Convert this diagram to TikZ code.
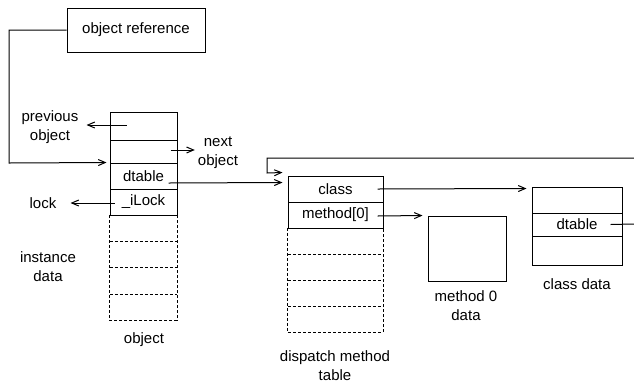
\documentclass[tikz,border=0pt]{standalone}
\usepackage{fontspec}
\setmainfont{Liberation Sans}
\usetikzlibrary{arrows.meta,calc}
\tikzset{
  cell/.style={draw, line width=1pt, inner sep=0pt, anchor=center},
  dcell/.style={inner sep=0pt, anchor=center},
  dline/.style={line width=1pt, dash pattern=on 3pt off 2pt},
  lbl/.style={inner sep=0pt, align=center, anchor=center},
  conn/.style={line width=1pt},
  arr/.style={conn, -{Straight Barb[length=7pt,width=6pt]}},
}
\begin{document}
\begin{tikzpicture}[x=1pt,y=-1pt,font=\fontsize{15}{19}\selectfont]
\useasboundingbox (0,0) rectangle (634,384);
% object reference
\node[cell, minimum width=138pt, minimum height=44pt] (ref) at (136,30) {object reference};
% object
\node[cell, minimum width=67pt, minimum height=28pt] (o1) at (143.5,126) {};
\node[cell, minimum width=67pt, minimum height=23pt] (o2) at (143.5,151.5) {};
\node[cell, minimum width=67pt, minimum height=26pt] (od) at (143.5,176) {dtable};
\node[cell, minimum width=67pt, minimum height=26pt] (ol) at (143.5,202) {\_iLock};
\node[dcell, minimum width=67pt, minimum height=26pt] (oi1) at (143.5,228) {};
\node[dcell, minimum width=67pt, minimum height=26pt] (oi2) at (143.5,254.5) {};
\node[dcell, minimum width=67pt, minimum height=26pt] (oi3) at (143.5,281) {};
\node[dcell, minimum width=67pt, minimum height=26pt] (oi4) at (143.5,307) {};
\draw[dline] (oi1.north west) -- (oi4.south west) -- (oi4.south east) -- (oi1.north east);
\foreach \n in {oi1,oi2,oi3} \draw[dline] (\n.south west) -- (\n.south east);
\node[lbl] (objlbl) at (144,340) {object};
\node[lbl] (prev) at (50,127) {previous\\object};
\node[lbl] (next) at (218,153) {next\\object};
\node[lbl] (lock) at (43,203) {lock};
\node[lbl] (inst) at (48,267) {instance\\data};
% dispatch method table
\node[cell, minimum width=95pt, minimum height=26pt] (cls) at (335.5,189) {class};
\node[cell, minimum width=95pt, minimum height=26pt] (m0) at (335.5,215) {method[0]};
\node[dcell, minimum width=95pt, minimum height=26pt] (t1) at (335.5,241) {};
\node[dcell, minimum width=95pt, minimum height=26pt] (t2) at (335.5,267.5) {};
\node[dcell, minimum width=95pt, minimum height=26pt] (t3) at (335.5,293.5) {};
\node[dcell, minimum width=95pt, minimum height=26pt] (t4) at (335.5,319) {};
\draw[dline] (t1.north west) -- (t4.south west) -- (t4.south east) -- (t1.north east);
\foreach \n in {t1,t2,t3} \draw[dline] (\n.south west) -- (\n.south east);
\node[lbl] (dmt) at (335,366) {dispatch method\\table};
% method 0 data
\node[cell, minimum width=78pt, minimum height=65pt] (md) at (467,248.5) {};
\node[lbl] (mdl) at (466,306) {method 0\\data};
% class data
\node[cell, minimum width=90pt, minimum height=26pt] (c1) at (577,200) {};
\node[cell, minimum width=90pt, minimum height=23pt] (c2) at (577,224.5) {dtable};
\node[cell, minimum width=90pt, minimum height=29pt] (c3) at (577,250.5) {};
\node[lbl] (cdl) at (577,284) {class data};
% connectors
\coordinate (edgeTop) at (634,158);
\coordinate (edgeMid) at (634,224);
\draw[arr] (ref.west) -| (9,163) -- ($(od.north west)+(-3,0)$);
\draw[arr] ($(o1.center)+(-17,-1)$) -- ($(prev.east)+(8,-2)$);
\draw[arr] ($(o2.east)+(-7,-1.5)$) -- ($(next.west)+(-3,-3)$);
\draw[arr] ($(od.east)+(-9,7)$) -- ($(cls.north west)+(-5,7)$);
\draw[arr] ($(ol.west)+(5,1)$) -- ($(lock.east)+(14,0)$);
\draw[arr] (edgeTop) -- (267,158) -- (267,173) -- ($(cls.north west)+(-5,-3)$);
\draw[arr] ($(cls.east)+(-6,0)$) -- ($(c1.north west)+(-5,2)$);
\draw[arr] ($(m0.east)+(-6,1)$) -- ($(md.north west)+(-5,0)$);
\draw[conn] ($(c2.east)+(-12,0)$) -- (edgeMid);
\end{tikzpicture}
\end{document}
